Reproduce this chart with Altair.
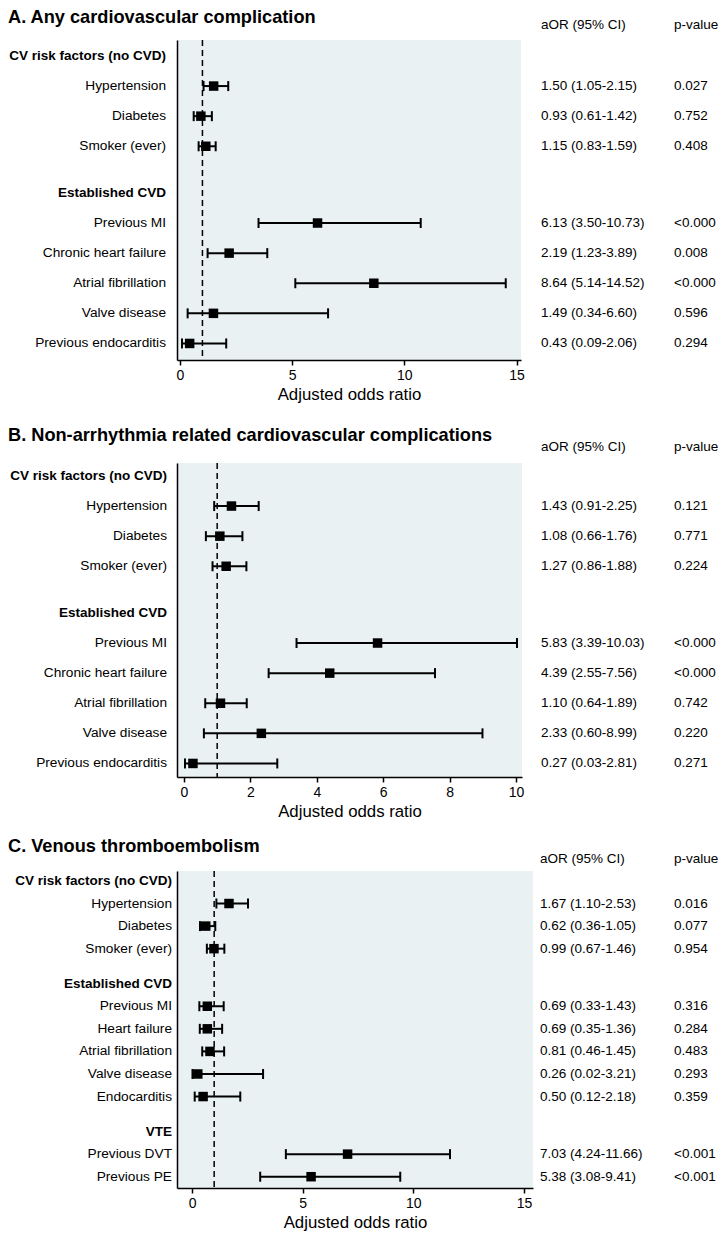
import altair as alt
import pandas as pd

FONT = "Liberation Sans"

# ---------------- data ----------------
column_headers = ["aOR (95% CI)", "p-value"]
x_title = "Adjusted odds ratio"
null_or = [1]

title_A = "A. Any cardiovascular complication"
labels_A = ["CV risk factors (no CVD)", "Hypertension", "Diabetes", "Smoker (ever)",
            "Established CVD", "Previous MI", "Chronic heart failure", "Atrial fibrillation",
            "Valve disease", "Previous endocarditis"]
section_A = [0, 0, 0, 0, 1, 1, 1, 1, 1, 1]
header_A = [True, False, False, False, True, False, False, False, False, False]
or_A = [None, 1.50, 0.93, 1.15, None, 6.13, 2.19, 8.64, 1.49, 0.43]
lo_A = [None, 1.05, 0.61, 0.83, None, 3.50, 1.23, 5.14, 0.34, 0.09]
hi_A = [None, 2.15, 1.42, 1.59, None, 10.73, 3.89, 14.52, 6.60, 2.06]
p_A = ["", "0.027", "0.752", "0.408", "", "<0.0001", "0.008", "<0.0001", "0.596", "0.294"]
ticks_A = [0, 5, 10, 15]

title_B = "B. Non-arrhythmia related cardiovascular complications"
labels_B = list(labels_A)
section_B = [0, 0, 0, 0, 1, 1, 1, 1, 1, 1]
header_B = [True, False, False, False, True, False, False, False, False, False]
or_B = [None, 1.43, 1.08, 1.27, None, 5.83, 4.39, 1.10, 2.33, 0.27]
lo_B = [None, 0.91, 0.66, 0.86, None, 3.39, 2.55, 0.64, 0.60, 0.03]
hi_B = [None, 2.25, 1.76, 1.88, None, 10.03, 7.56, 1.89, 8.99, 2.81]
p_B = ["", "0.121", "0.771", "0.224", "", "<0.0001", "<0.0001", "0.742", "0.220", "0.271"]
ticks_B = [0, 2, 4, 6, 8, 10]

title_C = "C. Venous thromboembolism"
labels_C = ["CV risk factors (no CVD)", "Hypertension", "Diabetes", "Smoker (ever)",
            "Established CVD", "Previous MI", "Heart failure", "Atrial fibrillation",
            "Valve disease", "Endocarditis", "VTE", "Previous DVT", "Previous PE"]
section_C = [0, 0, 0, 0, 1, 1, 1, 1, 1, 1, 2, 2, 2]
header_C = [True, False, False, False, True, False, False, False, False, False, True, False, False]
or_C = [None, 1.67, 0.62, 0.99, None, 0.69, 0.69, 0.81, 0.26, 0.50, None, 7.03, 5.38]
lo_C = [None, 1.10, 0.36, 0.67, None, 0.33, 0.35, 0.46, 0.02, 0.12, None, 4.24, 3.08]
hi_C = [None, 2.53, 1.05, 1.46, None, 1.43, 1.36, 1.45, 3.21, 2.18, None, 11.66, 9.41]
p_C = ["", "0.016", "0.077", "0.954", "", "0.316", "0.284", "0.483", "0.293", "0.359", "", "<0.001", "<0.001"]
ticks_C = [0, 5, 10, 15]

# ---------------- layout / style ----------------
SECTION_GAP = 0.55
BG = "#e9f1f3"

geo_A = dict(w=344, h=320, xdom=[-0.134, 15.2], ydom=[-0.53, 10.1], title_x=-169, title_y=-17,
             head_y=-15, label_x=-11, aor_x=364, p_x=497)
geo_B = dict(w=345, h=314, xdom=[-0.21, 10.18], ydom=[-0.43, 10.0], title_x=-169, title_y=-22,
             head_y=-16, label_x=-10, aor_x=364, p_x=497)
geo_C = dict(w=356, h=317, xdom=[-0.68, 15.41], ydom=[-0.44, 13.6], title_x=-169, title_y=-19,
             head_y=-12, label_x=-5, aor_x=363, p_x=497)


def panel(title, labels, sections, headers, ors, los, his, pvals, ticks, g):
    rows = [i + SECTION_GAP * s for i, s in enumerate(sections)]
    aor_txt = ["" if o is None else f"{o:.2f} ({l:.2f}-{h:.2f})" for o, l, h in zip(ors, los, his)]
    df = pd.DataFrame({"label": labels, "header": headers, "row": rows, "est": ors,
                       "lo": los, "hi": his, "aor": aor_txt, "p": pvals})
    xscale = alt.Scale(domain=g["xdom"], nice=False, zero=False)
    yscale = alt.Scale(domain=g["ydom"], reverse=True, nice=False, zero=False)
    xaxis = alt.Axis(values=ticks, title=x_title, grid=False, labelFlush=False, format="d")
    yaxis = alt.Axis(labels=False, ticks=False, title=None, grid=False)
    Y = alt.Y("row:Q", scale=yscale, axis=yaxis)

    def X(f):
        return alt.X(f, scale=xscale, axis=xaxis)

    base = alt.Chart(df)
    est = base.transform_filter("isValid(datum.est)")
    ref = alt.Chart(pd.DataFrame({"v": null_or})).mark_rule(
        color="black", strokeWidth=1.5, strokeDash=[6, 4]).encode(x=X("v:Q"))
    whisk = est.mark_rule(color="black", strokeWidth=2).encode(x=X("lo:Q"), x2="hi:Q", y=Y)
    cap_lo = est.mark_tick(color="black", orient="vertical", size=10, thickness=2, opacity=1).encode(x=X("lo:Q"), y=Y)
    cap_hi = est.mark_tick(color="black", orient="vertical", size=10, thickness=2, opacity=1).encode(x=X("hi:Q"), y=Y)
    sq = est.mark_square(color="black", size=90, opacity=1).encode(x=X("est:Q"), y=Y)

    txt = dict(font=FONT, color="black", baseline="middle")
    lab_h = base.transform_filter("datum.header").mark_text(
        align="right", fontSize=13.5, fontWeight="bold", **txt).encode(
        x=alt.value(g["label_x"]), y=Y, text="label:N")
    lab_i = base.transform_filter("!datum.header").mark_text(
        align="right", fontSize=13.7, **txt).encode(
        x=alt.value(g["label_x"]), y=Y, text="label:N")
    val = base.transform_filter("isValid(datum.est)")
    aor = val.mark_text(align="left", fontSize=13.5, **txt).encode(
        x=alt.value(g["aor_x"]), y=Y, text="aor:N")
    pv = val.mark_text(align="left", fontSize=13.5, limit=46, ellipsis="\u200b", **txt).encode(
        x=alt.value(g["p_x"]), y=Y, text="p:N")

    ttl = alt.Chart(pd.DataFrame({"t": [title]})).mark_text(
        align="left", baseline="alphabetic", font=FONT, fontSize=18.2, fontWeight="bold",
        color="black").encode(x=alt.value(g["title_x"]), y=alt.value(g["title_y"]), text="t:N")
    hd1 = alt.Chart(pd.DataFrame({"t": [column_headers[0]]})).mark_text(
        align="left", fontSize=13.5, **txt).encode(
        x=alt.value(g["aor_x"]), y=alt.value(g["head_y"]), text="t:N")
    hd2 = alt.Chart(pd.DataFrame({"t": [column_headers[1]]})).mark_text(
        align="left", fontSize=13.5, **txt).encode(
        x=alt.value(g["p_x"]), y=alt.value(g["head_y"]), text="t:N")

    return alt.layer(ref, whisk, cap_lo, cap_hi, sq, lab_h, lab_i, aor, pv, ttl, hd1, hd2).properties(
        width=g["w"], height=g["h"])


pA = panel(title_A, labels_A, section_A, header_A, or_A, lo_A, hi_A, p_A, ticks_A, geo_A)
pB = panel(title_B, labels_B, section_B, header_B, or_B, lo_B, hi_B, p_B, ticks_B, geo_B)
pC = panel(title_C, labels_C, section_C, header_C, or_C, lo_C, hi_C, p_C, ticks_C, geo_C)

inner = alt.vconcat(pB, pC, spacing=17)
chart = alt.vconcat(pA, inner, spacing=23).properties(
    padding=0
).configure(font=FONT).configure_view(fill=BG, stroke=None).configure_axis(
    labelFont=FONT, labelFontSize=14, labelColor="black", titleFont=FONT, titleFontSize=16.8,
    titleColor="black", titleFontWeight="normal", tickColor="black", tickSize=5, tickWidth=1.5,
    domainColor="black", domainWidth=1.5, labelPadding=3, titlePadding=4
)

chart.save("out.html", embed_options={"renderer": "svg", "actions": False})
